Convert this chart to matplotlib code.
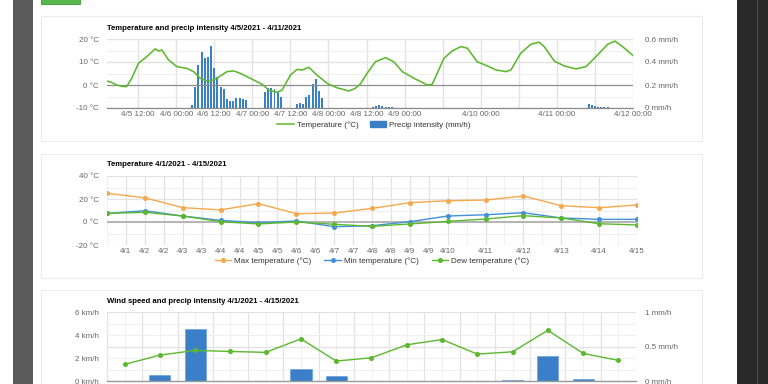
import matplotlib
matplotlib.use("Agg")
import matplotlib.pyplot as plt
from matplotlib.patches import Rectangle, Patch
from matplotlib.lines import Line2D

plt.rcParams["font.family"] = ["Liberation Sans", "DejaVu Sans"]

W, H = 768, 384
FS = 5.8
TICK = "#666666"
GRID = "#e2e2e2"
GRID_MINOR = "#f0f0f0"
GREEN = "#5cb82e"
BLUE_BAR = "#3a7fc7"
ORANGE = "#f6a84e"
BLUE_LINE = "#4390da"

# ---- chart 1: temperature (hours after 4/5 00:00) + hourly precip ----
temp_hours = [2.2, 3.5, 5.3, 7.0, 8.4, 10.0, 12.1, 14.7, 17.4, 18.4, 19.5, 21.6,
              24.2, 27.4, 29.5, 31.6, 34.2, 36.8, 40.0, 42.1, 44.0, 47.4, 51.1,
              53.2, 55.8, 57.4, 60.0, 62.1, 63.7, 65.8, 68.4, 71.6, 74.7, 78.4,
              80.4, 82.1, 84.2, 86.8, 90.0, 92.6, 95.3, 99.0, 103.2, 104.7,
              108.4, 111.0, 113.7, 115.8, 118.9, 122.1, 124.7, 127.9, 129.5,
              132.6, 135.8, 138.4, 140.0, 143.2, 146.3, 150.0, 153.2, 156.8,
              160.0, 162.3, 164.7, 166.8, 168.0]
temp_vals = [1.7, 1.2, 0.0, -0.6, -0.7, 2.9, 9.4, 12.3, 15.7, 14.8, 15.2, 10.9,
             8.0, 7.2, 5.8, 2.9, 1.4, 2.9, 5.8, 6.1, 5.2, 2.9, 0.3,
             -2.2, -3.2, -2.2, 4.3, 6.8, 6.5, 7.7, 4.3, 0.7, -1.2, -2.6,
             -1.5, 0.5, 5.1, 10.1, 11.9, 10.1, 5.8, 2.9, 0.0, 0.3,
             11.6, 14.8, 16.7, 16.0, 10.1, 8.3, 6.6, 5.8, 6.5,
             13.8, 17.7, 18.6, 16.7, 10.4, 8.3, 7.0, 8.0, 13.0,
             17.7, 19.1, 16.7, 14.2, 12.8]
rain_hours = [29, 30, 31, 32, 33, 34, 35, 36, 37, 38, 39, 40, 41, 42, 43, 44, 45, 46,
              52, 53, 54, 55, 56, 57,
              62, 63, 64, 65, 66, 67, 68, 69, 70,
              86, 87, 88, 89, 90, 91, 92, 93,
              154, 155, 156, 157, 158, 159, 160]
rain_vals = [0.026, 0.18, 0.374, 0.484, 0.437, 0.446, 0.539, 0.348, 0.27, 0.18,
             0.168, 0.081, 0.064, 0.064, 0.09, 0.09, 0.075, 0.07,
             0.136, 0.171, 0.171, 0.168, 0.142, 0.098,
             0.037, 0.04, 0.037, 0.1, 0.113, 0.209, 0.255, 0.148, 0.084,
             0.01, 0.02, 0.028, 0.02, 0.012, 0.008, 0.006, 0.004,
             0.035, 0.026, 0.015, 0.012, 0.01, 0.008, 0.006]
c1_ticks = [12, 24, 36, 48, 60, 72, 84, 96, 120, 144, 168]
c1_labels = ["4/5 12:00", "4/6 00:00", "4/6 12:00", "4/7 00:00", "4/7 12:00",
             "4/8 00:00", "4/8 12:00", "4/9 00:00", "4/10 00:00", "4/11 00:00",
             "4/12 00:00"]

# ---- chart 2: daily temperatures ----
day_pos = [0, 1, 2, 3, 4, 5, 6, 7, 8, 9, 10, 11, 12, 13, 14]
max_temp = [25, 21, 12.5, 10.5, 16, 7.2, 7.8, 11.8, 16.8, 18.5, 19.1, 22.6, 14.2, 12.4, 14.8]
min_temp = [7.5, 9.8, 5.2, 1.4, -0.6, 0.9, -4.1, -3.2, 0.3, 5.2, 6.3, 8.1, 3.5, 2.3, 2.3]
dew_temp = [7.5, 8.4, 5.2, 0.3, -1.7, 0.0, -2.0, -3.8, -1.7, 0.5, 2.6, 5.5, 3.5, -1.5, -2.6]
c2_ticks = [0.5, 1, 1.5, 2, 2.5, 3, 3.5, 4, 4.5, 5, 5.5, 6, 6.5, 7, 7.5, 8, 8.5, 9,
            10, 11, 12, 13, 14]
c2_labels = ["4/1", "4/2", "4/2", "4/3", "4/3", "4/4", "4/4", "4/5", "4/5", "4/6",
             "4/6", "4/7", "4/7", "4/8", "4/8", "4/9", "4/9", "4/10",
             "4/11", "4/12", "4/13", "4/14", "4/15"]

# ---- chart 3: daily wind + precip ----
days = ["4/1", "4/2", "4/3", "4/4", "4/5", "4/6", "4/7", "4/8", "4/9", "4/10",
        "4/11", "4/12", "4/13", "4/14", "4/15"]
wind = [1.45, 2.26, 2.67, 2.58, 2.5, 3.68, 1.74, 2.03, 3.16, 3.62, 2.35, 2.55, 4.43, 2.41, 1.8]
day_rain = [0, 0.087, 0.75, 0.005, 0, 0.17, 0.077, 0, 0, 0, 0, 0.015, 0.36, 0.035, 0]


def box(x0, y0, x1, y1):
    return [x0 / W, 1 - y1 / H, (x1 - x0) / W, (y1 - y0) / H]


fig = plt.figure(figsize=(W / 100, H / 100), dpi=100)


def rect(x0, y0, x1, y1, **kw):
    fig.add_artist(Rectangle((x0 / W, 1 - y1 / H), (x1 - x0) / W, (y1 - y0) / H,
                             transform=fig.transFigure, zorder=-5, **kw))


# page chrome
rect(13, -2, 33, 390, facecolor="#5a5a5a", edgecolor="none")
rect(737, -2, 770, 390, facecolor="#292929", edgecolor="none")
rect(756.5, -2, 758, 390, facecolor="#505050", edgecolor="none")
rect(41, -3, 80, 4, facecolor="#56b84a", edgecolor="#3f9a36", lw=0.6)
for y0, y1 in [(16, 141.5), (154, 278), (290, 392)]:
    rect(41, y0, 702, y1, facecolor="white", edgecolor="#ececec", lw=0.8)


def clean(ax):
    for s in ax.spines.values():
        s.set_visible(False)
    ax.tick_params(length=0, labelsize=FS, colors=TICK, which="both")
    ax.set_facecolor("none")


def title(y, s):
    fig.text(107 / W, 1 - y / H, s, fontsize=5.6, fontweight="bold", va="center", ha="left")


# ================= chart 1 =================
a1r = fig.add_axes(box(107, 39, 633, 108))
a1 = a1r.twinx()
clean(a1r); clean(a1)
a1r.bar(rain_hours, rain_vals, width=0.62, color=BLUE_BAR, zorder=2)
a1r.set_ylim(0, 0.6)
a1r.set_yticks([0, 0.2, 0.4, 0.6])
a1r.set_yticklabels(["0 mm/h", "0.2 mm/h", "0.4 mm/h", "0.6 mm/h"])
a1r.set_yticks([0.1, 0.3, 0.5], minor=True)
a1r.yaxis.tick_right()
a1r.tick_params(axis="y", pad=8.4)
a1r.set_xlim(2.2, 168)
a1r.set_xticks(c1_ticks)
a1r.set_xticklabels(c1_labels)
a1r.set_xticks([108, 132, 156], minor=True)
a1r.tick_params(axis="x", pad=2.5)
a1r.grid(True, which="major", color=GRID, lw=1.0, zorder=0)
a1r.grid(True, which="minor", color=GRID_MINOR, lw=0.8, zorder=0)
a1r.grid(True, which="minor", axis="x", color=GRID, lw=1.0, zorder=0)
a1r.set_axisbelow(True)
a1.plot(temp_hours, temp_vals, color=GREEN, lw=1.15, zorder=3,
        solid_joinstyle="round", solid_capstyle="round")
a1.set_ylim(-10, 20)
a1.set_yticks([-10, 0, 10, 20])
a1.set_yticklabels(["-10 °C", "0 °C", "10 °C", "20 °C"])
a1.yaxis.tick_left()
a1.tick_params(axis="y", pad=5.8)
a1.axhline(0, color="#8a8a8a", lw=0.8, zorder=1)
a1.axhline(-10, color="#8a8a8a", lw=0.9, zorder=1, clip_on=False)
title(28.3, "Temperature and precip intensity 4/5/2021 - 4/11/2021")
fig.legend([Line2D([], [], color=GREEN, lw=1.1), Patch(color=BLUE_BAR)],
           ["Temperature (°C)", "Precip intensity (mm/h)"],
           loc="center", bbox_to_anchor=(374 / W, 1 - 125 / H), ncol=2, frameon=False,
           fontsize=FS, handlelength=2.0, handleheight=0.6, handletextpad=0.4,
           columnspacing=1.4, labelcolor="#333333")

# ================= chart 2 =================
a2 = fig.add_axes(box(107, 176, 637, 245))
clean(a2)
a2.plot(day_pos, max_temp, color=ORANGE, lw=1.0, marker="o", ms=2.6, zorder=3)
a2.plot(day_pos, min_temp, color=BLUE_LINE, lw=1.0, marker="o", ms=2.6, zorder=3)
a2.plot(day_pos, dew_temp, color=GREEN, lw=1.0, marker="o", ms=2.6, zorder=4)
a2.set_xlim(0, 14)
a2.set_ylim(-20, 40)
a2.set_yticks([-20, 0, 20, 40])
a2.set_yticklabels(["-20 °C", "0 °C", "20 °C", "40 °C"])
a2.set_yticks([-10, 10, 30], minor=True)
a2.set_xticks(c2_ticks)
a2.set_xticklabels(c2_labels)
a2.set_xticks([0, 9.5, 10.5, 11.5, 12.5, 13.5], minor=True)
a2.tick_params(axis="y", pad=5.8)
a2.tick_params(axis="x", pad=2.2)
a2.grid(True, which="major", color=GRID, lw=0.9)
a2.grid(True, which="minor", color=GRID_MINOR, lw=0.8)
a2.set_axisbelow(True)
a2.axhline(0, color="#b4b4b4", lw=1.4, zorder=1)
title(164.3, "Temperature 4/1/2021 - 4/15/2021")
mk = dict(marker="o", ms=2.6, lw=1.0)
fig.legend([Line2D([], [], color=ORANGE, **mk), Line2D([], [], color=BLUE_LINE, **mk),
            Line2D([], [], color=GREEN, **mk)],
           ["Max temperature (°C)", "Min temperature (°C)", "Dew temperature (°C)"],
           loc="center", bbox_to_anchor=(372 / W, 1 - 261 / H), ncol=3, frameon=False,
           fontsize=FS, handlelength=2.0, handletextpad=0.4, columnspacing=1.6,
           labelcolor="#333333")

# ================= chart 3 =================
a3r = fig.add_axes(box(107, 312.3, 636, 381))
a3 = a3r.twinx()
clean(a3r); clean(a3)
a3r.bar(days, day_rain, width=0.6, color=BLUE_BAR, edgecolor="#5b9bd8", lw=0.4, zorder=2)
a3r.set_ylim(0, 1)
a3r.set_yticks([0, 0.5, 1])
a3r.set_yticklabels(["0 mm/h", "0.5 mm/h", "1 mm/h"])
a3r.set_yticks([1 / 6, 2 / 6, 4 / 6, 5 / 6], minor=True)
a3r.yaxis.tick_right()
a3r.tick_params(axis="y", pad=6.3)
a3r.set_xlim(-0.5, 14.5)
a3r.set_xticks([-0.5, 0.5, 1.5, 2.5, 3.5, 4.5, 5.5, 6.5, 7.5, 8.5, 9.5, 10.5, 11.5, 12.5, 13.5, 14.5])
a3r.set_xticklabels([])
a3r.set_xticks([0, 1, 2, 3, 4, 5, 6, 7, 8, 9, 10, 11, 12, 13, 14], minor=True)
a3r.grid(True, which="major", color=GRID, lw=0.9)
a3r.grid(True, which="minor", color=GRID_MINOR, lw=0.8)
a3r.set_axisbelow(True)
a3.plot(days, wind, color=GREEN, lw=1.0, marker="o", ms=2.6, zorder=3)
a3.set_ylim(0, 6)
a3.set_yticks([0, 2, 4, 6])
a3.set_yticklabels(["0 km/h", "2 km/h", "4 km/h", "6 km/h"])
a3.yaxis.tick_left()
a3.tick_params(axis="y", pad=5.8)
a3.axhline(0, color="#9a9a9a", lw=1.0, zorder=1, clip_on=False)
title(301.7, "Wind speed and precip intensity 4/1/2021 - 4/15/2021")

fig.savefig("out.png", dpi=100)
